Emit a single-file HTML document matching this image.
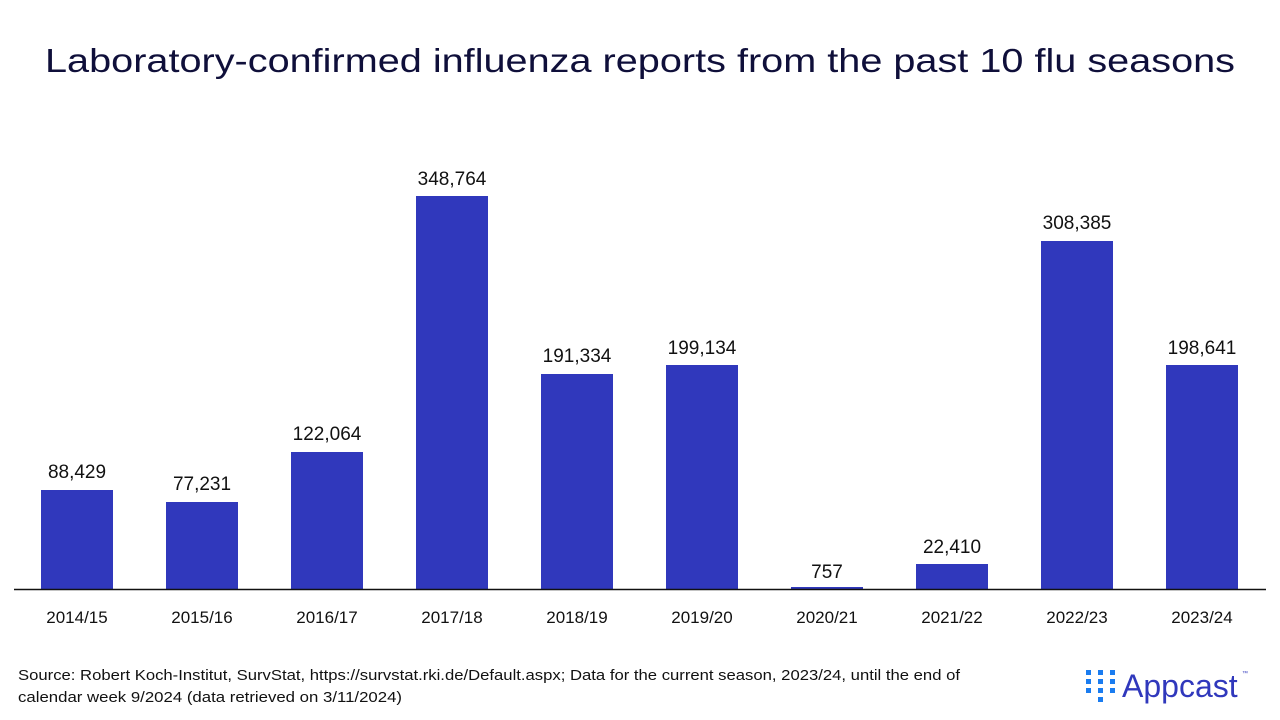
<!DOCTYPE html>
<html><head><meta charset="utf-8"><style>
body{margin:0;background:#fff;}
svg{display:block;font-family:"Liberation Sans",sans-serif;}
</style></head><body>
<svg width="1280" height="720" xmlns="http://www.w3.org/2000/svg">
<text x="45" y="72" font-size="33" fill="#0f0f3a" textLength="1190" lengthAdjust="spacingAndGlyphs">Laboratory-confirmed influenza reports from the past 10 flu seasons</text>
<g fill="#3038bc">
<rect x="41" y="490" width="72" height="99"/>
<rect x="166" y="502" width="72" height="87"/>
<rect x="291" y="452" width="72" height="137"/>
<rect x="416" y="196" width="72" height="393"/>
<rect x="541" y="374" width="72" height="215"/>
<rect x="666" y="365" width="72" height="224"/>
<rect x="791" y="587" width="72" height="2"/>
<rect x="916" y="564" width="72" height="25"/>
<rect x="1041" y="241" width="72" height="348"/>
<rect x="1166" y="365" width="72" height="224"/>
</g>
<line x1="14" y1="589.5" x2="1266" y2="589.5" stroke="#111" stroke-width="1.5"/>
<g font-size="19" fill="#111" text-anchor="middle">
<text x="77" y="478">88,429</text>
<text x="202" y="490">77,231</text>
<text x="327" y="440">122,064</text>
<text x="452" y="185">348,764</text>
<text x="577" y="362">191,334</text>
<text x="702" y="354">199,134</text>
<text x="827" y="578">757</text>
<text x="952" y="553">22,410</text>
<text x="1077" y="229">308,385</text>
<text x="1202" y="354">198,641</text>
</g>
<g font-size="17" fill="#111" text-anchor="middle">
<text x="77" y="623">2014/15</text>
<text x="202" y="623">2015/16</text>
<text x="327" y="623">2016/17</text>
<text x="452" y="623">2017/18</text>
<text x="577" y="623">2018/19</text>
<text x="702" y="623">2019/20</text>
<text x="827" y="623">2020/21</text>
<text x="952" y="623">2021/22</text>
<text x="1077" y="623">2022/23</text>
<text x="1202" y="623">2023/24</text>
</g>
<g font-size="15" fill="#111">
<text x="18" y="680" textLength="942" lengthAdjust="spacingAndGlyphs">Source: Robert Koch-Institut, SurvStat, https://survstat.rki.de/Default.aspx; Data for the current season, 2023/24, until the end of</text>
<text x="18" y="702" textLength="384" lengthAdjust="spacingAndGlyphs">calendar week 9/2024 (data retrieved on 3/11/2024)</text>
</g>
<g fill="#1a7cf0">
<rect x="1086" y="670" width="5" height="5"/><rect x="1098" y="670" width="5" height="5"/><rect x="1110" y="670" width="5" height="5"/>
<rect x="1086" y="679" width="5" height="5"/><rect x="1098" y="679" width="5" height="5"/><rect x="1110" y="679" width="5" height="5"/>
<rect x="1086" y="688" width="5" height="5"/><rect x="1098" y="688" width="5" height="5"/><rect x="1110" y="688" width="5" height="5"/>
<rect x="1098" y="697" width="5" height="5"/>
</g>
<text x="1122" y="697" font-size="32" fill="#3038bc">Appcast</text>
<text x="1242" y="675" font-size="6" fill="#3038bc">™</text>
</svg>
</body></html>
